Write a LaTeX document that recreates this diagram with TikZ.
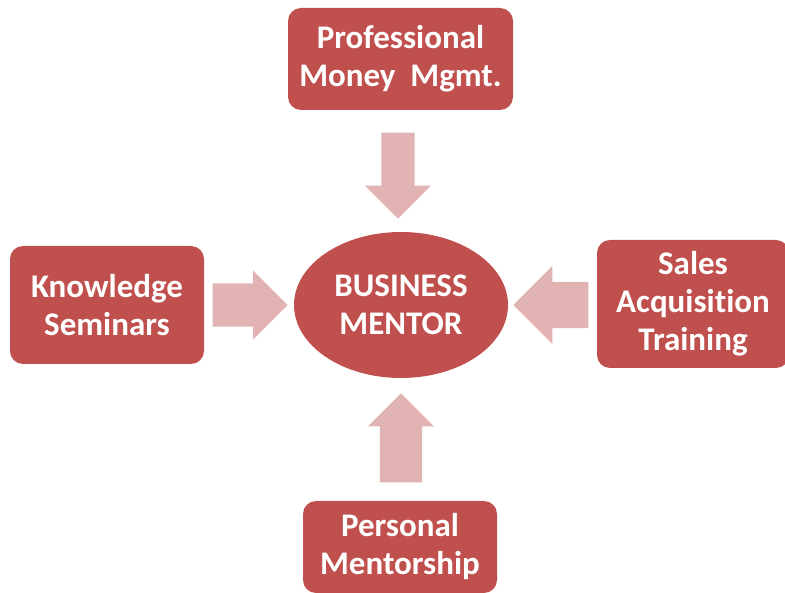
\documentclass[tikz,border=0pt]{standalone}
\usepackage{fontspec}
\setmainfont[Ligatures=NoCommon, Contextuals=NoAlternate]{Carlito}
\usepackage{tikz}
\usetikzlibrary{shapes.geometric,shapes.arrows}

\definecolor{boxred}{HTML}{C0504D}
\definecolor{arrowpink}{HTML}{E2B3B3}

\begin{document}
\begin{tikzpicture}[x=1pt, y=-1pt,
    box/.style={fill=boxred, rounded corners=13pt, text=white, align=center,
        font=\fontsize{33}{38}\selectfont\bfseries, inner sep=0pt},
    feed/.style={single arrow, fill=arrowpink, anchor=tip,
        single arrow head indent=0pt}]
    \useasboundingbox (0,0) rectangle (785,593);

    \node[box, ellipse, rounded corners=0pt, minimum width=214pt, minimum height=146pt] (mentor) at (401,305) {BUSINESS\\MENTOR};
    \node[box, minimum width=225pt, minimum height=102pt] (money) at (400.5,59) {Professional\\Money\ \ Mgmt.};
    \node[box, minimum width=194pt, minimum height=118pt] (seminars) at (107,305) {Knowledge\\Seminars};
    \node[box, minimum width=192pt, minimum height=128pt] (sales) at (693,304) {Sales\\Acquisition\\Training};
    \node[box, minimum width=194pt, minimum height=92pt] (mentorship) at (400,547) {Personal\\Mentorship};

    % block arrows pointing at the mentor
    \node[feed, shape border rotate=270, minimum height=86pt, inner xsep=16.5pt, inner ysep=0pt,
        single arrow head extend=16.5pt] (fromtop) at (398,219) {};
    \node[feed, shape border rotate=90, minimum height=89pt, inner xsep=21pt, inner ysep=0pt,
        single arrow head extend=12pt] (frombottom) at (401,393) {};
    \node[feed, shape border rotate=0, minimum height=75pt, inner ysep=21.5pt, inner xsep=0pt,
        single arrow head extend=13pt] (fromleft) at (288,305) {};
    \node[feed, shape border rotate=180, minimum height=75pt, inner ysep=23pt, inner xsep=0pt,
        single arrow head extend=16pt] (fromright) at (513,305) {};
\end{tikzpicture}
\end{document}
